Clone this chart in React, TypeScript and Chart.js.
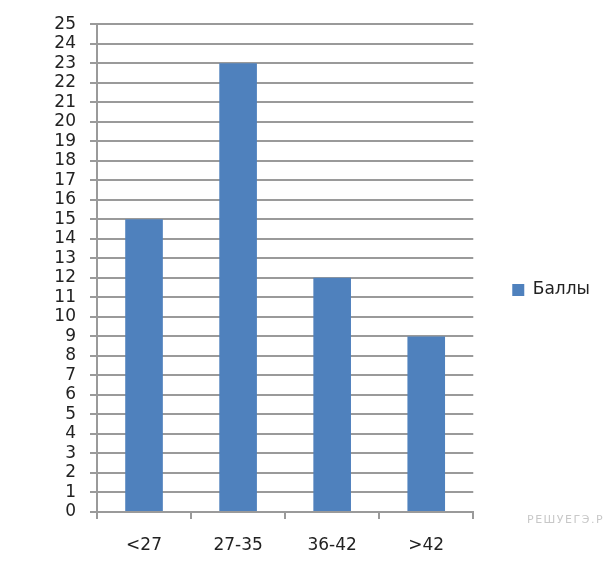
import React, { useEffect, useRef } from "react";
import { Chart, registerables } from "chart.js";

Chart.register(...registerables);

const categories = ["<27", "27-35", "36-42", ">42"];
const seriesLabel = "Баллы";
const seriesValues = [15, 23, 12, 9];
const yMin = 0;
const yMax = 25;
const yStep = 1;
const watermark = "РЕШУЕГЭ.РФ";

const FONT = "'DejaVu Sans', sans-serif";
const GRID = "#9a9a9a";

export default function App() {
  const ref = useRef<HTMLCanvasElement | null>(null);

  useEffect(() => {
    if (!ref.current) return;
    const chart = new Chart(ref.current, {
      type: "bar",
      data: {
        labels: categories,
        datasets: [
          {
            label: seriesLabel,
            data: seriesValues,
            backgroundColor: "#4F81BD",
            borderWidth: 0,
            barPercentage: 0.4,
            categoryPercentage: 1,
          },
        ],
      },
      options: {
        responsive: false,
        animation: false,
        layout: { padding: { top: 24, bottom: 30, left: 0, right: 4 } },
        plugins: {
          tooltip: { enabled: false },
          legend: {
            position: "right",
            maxWidth: 131,
            labels: {
              boxWidth: 12,
              boxHeight: 12,
              padding: 39,
              color: "#222",
              font: { family: FONT, size: 17 },
            },
          },
        },
        scales: {
          x: {
            grid: {
              display: true,
              offset: true,
              drawOnChartArea: false,
              drawTicks: true,
              tickLength: 7,
              color: GRID,
              lineWidth: 2,
            },
            border: { display: true, color: GRID, width: 2 },
            ticks: {
              color: "#222",
              padding: 16,
              font: { family: FONT, size: 17 },
            },
            afterFit: (scale: any) => {
              scale.height = 44;
            },
          },
          y: {
            min: yMin,
            max: yMax,
            ticks: {
              stepSize: yStep,
              autoSkip: false,
              color: "#222",
              padding: 14,
              font: { family: FONT, size: 17 },
            },
            grid: {
              color: GRID,
              lineWidth: 2,
              tickLength: 7,
            },
            border: { display: true, color: GRID, width: 2 },
            afterFit: (scale: any) => {
              scale.width = 97;
            },
          },
        },
      },
    });
    return () => chart.destroy();
  }, []);

  return (
    <div
      style={{
        position: "fixed",
        left: 0,
        top: 0,
        width: 604,
        height: 586,
        overflow: "hidden",
        background: "#fff",
      }}
    >
      <canvas ref={ref} width={604} height={586} style={{ display: "block" }} />
      <span
        style={{
          position: "absolute",
          left: 527,
          top: 513,
          fontFamily: FONT,
          fontSize: 11,
          letterSpacing: 1.5,
          color: "#c8c8c8",
          whiteSpace: "nowrap",
        }}
      >
        {watermark}
      </span>
    </div>
  );
}
